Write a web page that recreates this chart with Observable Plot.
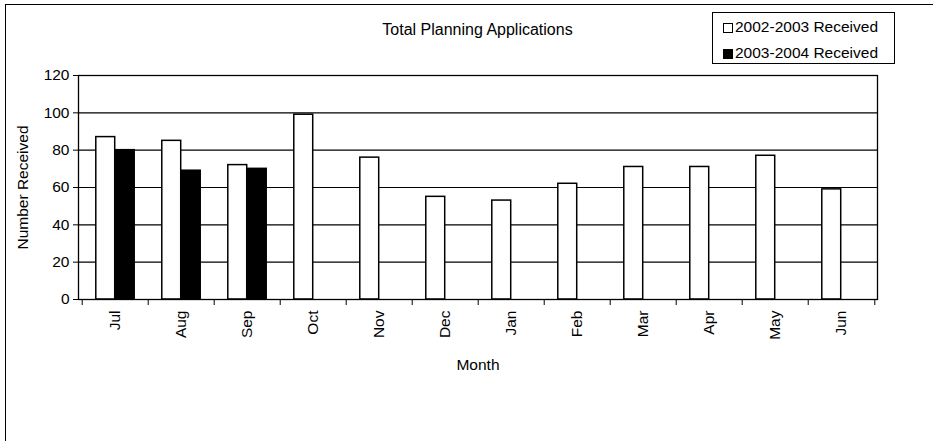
<!DOCTYPE html>
<html>
<head>
<meta charset="utf-8">
<script src="https://cdn.jsdelivr.net/npm/d3@7"></script>
<script src="https://cdn.jsdelivr.net/npm/@observablehq/plot@0.6"></script>
<style>
  html, body { margin: 0; padding: 0; background: #fff; overflow: hidden; }
  #wrap { position: relative; width: 933px; height: 441px; overflow: hidden; font-family: "Liberation Sans", Arial, sans-serif; }
  #bl { position: absolute; left: 5px; top: 4px; width: 0; height: 437px; border-left: 1.5px solid #000; }
  #bt { position: absolute; left: 5px; top: 4px; width: 928px; height: 0; border-top: 1.5px solid #000; }
  #title { position: absolute; left: 0; width: 955px; top: 21px; text-align: center; font-size: 16px; line-height: 18px; color: #000; }
  #legend { position: absolute; left: 712px; top: 12px; width: 183px; height: 52px; border: 1px solid #000; box-sizing: border-box; background: #fff; font-size: 15.5px; }
  .row { position: absolute; left: 10px; height: 18px; line-height: 18px; white-space: nowrap; }
  .sw { display: inline-block; width: 10px; height: 10px; border: 1px solid #000; box-sizing: border-box; margin-right: 2px; vertical-align: -1px; }
  svg { position: absolute; left: 0; top: 0; }
</style>
</head>
<body>
<div id="wrap">
  <div id="chart"></div>
  <div id="bl"></div>
  <div id="bt"></div>
  <div id="title"></div>
  <div id="legend"></div>
</div>
<script>
const months = ["Jul","Aug","Sep","Oct","Nov","Dec","Jan","Feb","Mar","Apr","May","Jun"];
const series = ["2002-2003 Received", "2003-2004 Received"];
const values2002 = [87, 85, 72, 99, 76, 55, 53, 62, 71, 71, 77, 59];
const values2003 = [80, 69, 70, null, null, null, null, null, null, null, null, null];
const yTicks = [0, 20, 40, 60, 80, 100, 120];
const seriesColors = ["#ffffff", "#000000"];
const titleText = "Total Planning Applications";

const data = [];
months.forEach((m, i) => {
  if (values2002[i] != null) data.push({month: m, series: series[0], value: values2002[i]});
  if (values2003[i] != null) data.push({month: m, series: series[1], value: values2003[i]});
});

const W = 933, H = 441, mL = 78, mR = 56;
const step = (W - mL - mR) / months.length;
const barW = 19.5;
const outer = (step - 2 * barW) / 2;
const FS = 15.5;

const plot = Plot.plot({
  width: W,
  height: H,
  marginLeft: mL,
  marginRight: mR,
  marginTop: 75,
  marginBottom: 142,
  style: {fontFamily: "'Liberation Sans', Arial, sans-serif", fontSize: FS + "px", color: "#000", background: "transparent"},
  x: {domain: months, padding: 0},
  y: {domain: [0, 120]},
  color: {domain: series, range: seriesColors},
  marks: [
    Plot.gridY(yTicks, {stroke: "#000", strokeOpacity: 1, strokeWidth: 1.1}),
    Plot.barY(data.filter(d => d.series === series[0]), {
      x: "month", y: "value", fill: "series", stroke: "#000", strokeWidth: 1.5,
      insetLeft: outer, insetRight: outer + barW
    }),
    Plot.barY(data.filter(d => d.series === series[1]), {
      x: "month", y: "value", fill: "series", stroke: "#000", strokeWidth: 1.5,
      insetLeft: outer + barW, insetRight: outer
    }),
    Plot.frame({stroke: "#000", strokeWidth: 1.3}),
    Plot.axisY({ticks: yTicks, tickSize: 5, tickPadding: 4, label: "Number Received", labelAnchor: "center", labelArrow: "none", labelOffset: 62, fontSize: FS}),
    Plot.axisX({tickSize: 6, tickFormat: () => "", dx: -step / 2, label: null}),
    Plot.axisX({ticks: [months[months.length - 1]], tickSize: 6, tickFormat: () => "", dx: step / 2, label: null}),
    Plot.axisX({tickSize: 0, tickRotate: -90, tickPadding: 11, label: "Month", labelAnchor: "center", labelArrow: "none", labelOffset: 70, fontSize: FS})
  ]
});
document.getElementById("chart").appendChild(plot);

document.getElementById("title").textContent = titleText;
const legend = document.getElementById("legend");
series.forEach((s, i) => {
  const row = document.createElement("div");
  row.className = "row";
  row.style.top = (i === 0 ? 5 : 31) + "px";
  const sw = document.createElement("span");
  sw.className = "sw";
  sw.style.background = seriesColors[i];
  row.appendChild(sw);
  row.appendChild(document.createTextNode(s));
  legend.appendChild(row);
});
</script>
</body>
</html>
